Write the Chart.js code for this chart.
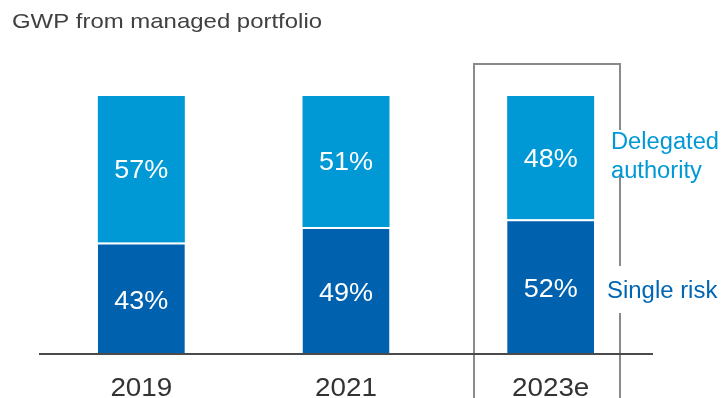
<!DOCTYPE html>
<html>
<head>
<meta charset="utf-8">
<script src="https://cdn.jsdelivr.net/npm/chart.js@4/dist/chart.umd.min.js"></script>
<style>
  html, body { margin: 0; padding: 0; background: #fff; }
  canvas { display: block; }
</style>
</head>
<body>
<canvas id="gwpChart" width="723" height="398"></canvas>
<script>
// data
var years = ["2019", "2021", "2023e"];
var singleRisk = [43, 49, 52];
var delegated = [57, 51, 48];
var singleLabel = ["Single risk"];
var delegatedLabel = ["Delegated", "authority"];
var title = "GWP from managed portfolio";

var darkBlue = "#0062AF";
var lightBlue = "#0099D6";
var font = "'Liberation Sans', Arial, sans-serif";

// draw text a bit wider than the font gives
function wideText(ctx, text, x, y, sx) {
    ctx.save();
    ctx.translate(x, y);
    ctx.scale(sx, 1);
    ctx.fillText(text, 0, 0);
    ctx.restore();
}

// percentages in the middle of each bar segment
var valueLabels = {
    id: "valueLabels",
    afterDatasetsDraw: function(chart) {
        var ctx = chart.ctx;
        ctx.save();
        ctx.fillStyle = "#fff";
        ctx.font = "25px " + font;
        ctx.textAlign = "center";
        ctx.textBaseline = "middle";
        chart.data.datasets.forEach(function(ds, di) {
            var meta = chart.getDatasetMeta(di);
            meta.data.forEach(function(bar, i) {
                var mid = (bar.y + bar.base) / 2 + (di == 0 ? 4 : 2);
                wideText(ctx, ds.data[i] + "%", bar.x, mid, 1.08);
            });
        });
        ctx.restore();
    }
};

// baseline, year labels, highlight box, series names, title
var decorations = {
    id: "decorations",
    afterDraw: function(chart) {
        var ctx = chart.ctx;
        var area = chart.chartArea;
        var x = chart.scales.x;
        ctx.save();

        // box around the estimate year
        ctx.strokeStyle = "#8a8a8a";
        ctx.lineWidth = 2;
        ctx.beginPath();
        ctx.moveTo(474, 400);
        ctx.lineTo(474, 64);
        ctx.lineTo(620, 64);
        ctx.lineTo(620, 400);
        ctx.stroke();

        // axis line
        ctx.strokeStyle = "#4a4a4a";
        ctx.lineWidth = 2;
        ctx.beginPath();
        ctx.moveTo(area.left, area.bottom + 1);
        ctx.lineTo(area.right, area.bottom + 1);
        ctx.stroke();

        // years
        ctx.fillStyle = "#333";
        ctx.font = "26px " + font;
        ctx.textAlign = "center";
        ctx.textBaseline = "alphabetic";
        years.forEach(function(y, i) {
            wideText(ctx, y, x.getPixelForValue(i), 396, 1.07);
        });

        // series names next to the last bar
        var meta0 = chart.getDatasetMeta(0).data[2];
        var meta1 = chart.getDatasetMeta(1).data[2];
        ctx.font = "23px " + font;
        ctx.textAlign = "left";

        ctx.fillStyle = "#fff";
        ctx.fillRect(604, 130, 115, 44);
        ctx.fillStyle = lightBlue;
        var dMid = (meta1.y + meta1.base) / 2;
        wideText(ctx, delegatedLabel[0], 611, dMid - 9, 1.03);
        wideText(ctx, delegatedLabel[1], 611, dMid + 20, 1.03);

        ctx.fillStyle = "#fff";
        ctx.fillRect(602, 266, 118, 47);
        ctx.fillStyle = "#0065B3";
        var sMid = (meta0.y + meta0.base) / 2;
        wideText(ctx, singleLabel[0], 607, sMid + 12, 1.04);

        // title
        ctx.fillStyle = "#404040";
        ctx.font = "21px " + font;
        wideText(ctx, title, 12, 28, 1.14);

        ctx.restore();
    }
};

var gwpChart = new Chart(document.getElementById("gwpChart"), {
    type: "bar",
    data: {
        labels: years,
        datasets: [
            {
                label: singleLabel[0],
                data: singleRisk,
                backgroundColor: darkBlue,
                borderColor: "#fff",
                borderWidth: { top: 2, left: 0, right: 0, bottom: 0 },
                borderSkipped: false
            },
            {
                label: delegatedLabel.join(" "),
                data: delegated,
                backgroundColor: lightBlue,
                borderWidth: 0
            }
        ]
    },
    options: {
        responsive: false,
        animation: false,
        devicePixelRatio: 1,
        layout: { padding: { left: 39, right: 70, top: 96, bottom: 45 } },
        datasets: { bar: { barPercentage: 0.85, categoryPercentage: 0.5 } },
        plugins: {
            legend: { display: false },
            tooltip: { enabled: false }
        },
        scales: {
            x: { stacked: true, display: false },
            y: { stacked: true, display: false, min: 0, max: 100 }
        }
    },
    plugins: [valueLabels, decorations]
});
</script>
</body>
</html>
